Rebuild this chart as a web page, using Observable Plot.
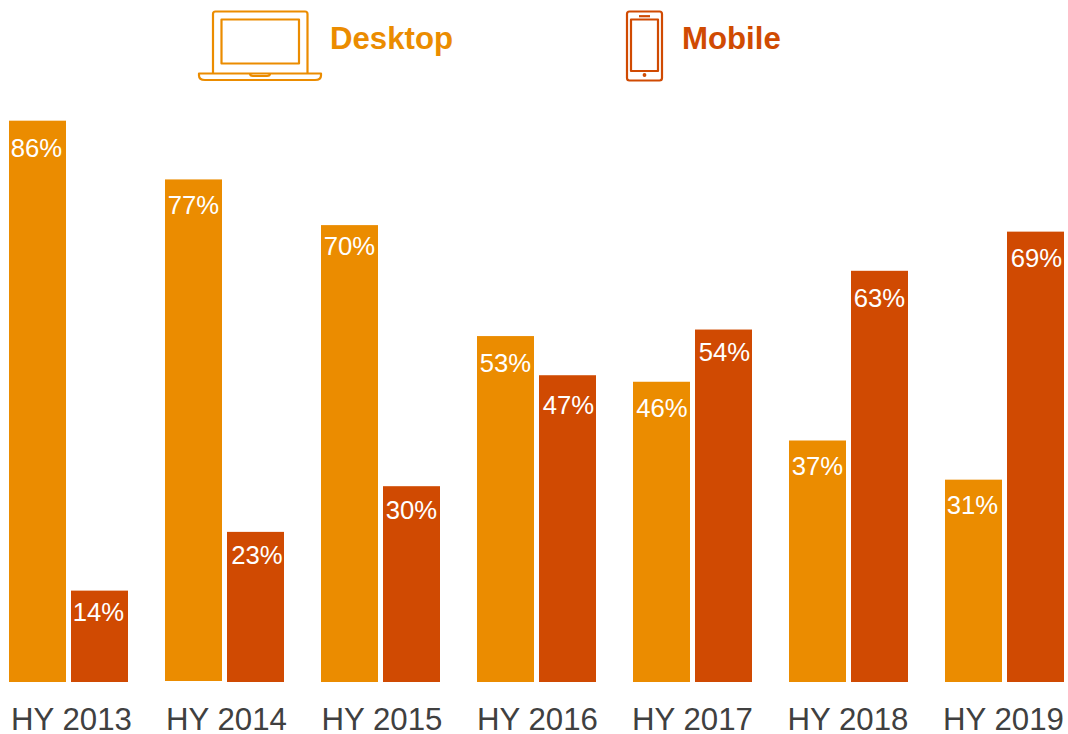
<!DOCTYPE html>
<html>
<head>
<meta charset="utf-8">
<script src="https://cdn.jsdelivr.net/npm/d3@7"></script>
<script src="https://cdn.jsdelivr.net/npm/@observablehq/plot@0.6"></script>
<style>
html,body{margin:0;padding:0;background:#fff;overflow:hidden}
#wrap{position:relative;width:1068px;height:734px;font-family:"Liberation Sans",Arial,sans-serif}
#wrap>svg.icons{position:absolute;left:0;top:0;pointer-events:none}
.lg{position:absolute;top:21px;font-weight:700;font-size:31.200px;line-height:36px}
</style>
</head>
<body>
<div id="wrap">
<svg class="icons" width="1068" height="100" fill="none" stroke-width="2.200" stroke-linejoin="round">
  <g stroke="#EB8C00">
    <path d="M213 73V14q0-2.500 2.500-2.500h89.500q2.500 0 2.500 2.500V73"/>
    <rect x="221.500" y="19.500" width="77.500" height="44"/>
    <path d="M199 73.500H321v2q0 4.500-6 4.500H205q-6 0-6-4.500z"/>
    <path d="M250 73.500q0 2.500 3 2.500h14q3 0 3-2.500"/>
  </g>
  <g stroke="#D04A02">
    <rect x="627" y="11.500" width="35" height="69" rx="2.500"/>
    <rect x="631" y="19.500" width="27" height="51.500"/>
    <path d="M639 16.200H650"/>
    <circle cx="644.500" cy="75" r="0.800" fill="#D04A02"/>
  </g>
</svg>
<div class="lg" style="left:330px;color:#EB8C00">Desktop</div>
<div class="lg" style="left:682px;color:#D04A02">Mobile</div>
</div>
<script>
const periods = ["HY 2013","HY 2014","HY 2015","HY 2016","HY 2017","HY 2018","HY 2019"];
const desktop = [86,77,70,53,46,37,31];
const mobile  = [14,23,30,47,54,63,69];
const seriesNames = ["Desktop","Mobile"];
const seriesColors = ["#EB8C00","#D04A02"];

const rows = periods.flatMap((p,i)=>[
  {period:p, series:seriesNames[0], value:desktop[i]},
  {period:p, series:seriesNames[1], value:mobile[i]}
]);

// hand-placed label nudges seen in the reference (layout only, in row order)
const nudgeY = [27.5,22, 26,23, 21,24, 27,30, 26.5,23, 26,27.500, 26,26.5];
const nudgeX = [-1.5,-1.500, -0.5,1, -0.5,-0.5, -0.5,0.5, 0,0.5, -0.5,-0.5, -1.5,0.5];
const tickNudge = [2.5,1.5,1,0.5,-0.5,-1,-1.5];

const isShort = d => d.period==="HY 2014" && d.series==="Desktop";

const chart = Plot.plot({
  width:1068, height:734,
  marginLeft:9, marginRight:4, marginTop:29.3, marginBottom:52,
  style:{fontFamily:'"Liberation Sans",Arial,sans-serif',background:"transparent"},
  fx:{domain:periods, paddingInner:37/156, paddingOuter:0, round:false, label:null},
  x:{domain:seriesNames, paddingInner:5/62, paddingOuter:0, round:false, axis:null},
  y:{domain:[0,100], axis:null},
  color:{domain:seriesNames, range:seriesColors},
  marks:[
    Plot.barY(rows.filter(d=>!isShort(d)),{fx:"period",x:"series",y:"value",fill:"series"}),
    Plot.barY(rows.filter(isShort),{fx:"period",x:"series",y:"value",fill:"series",insetBottom:1}),
    ...rows.map((r,i)=>Plot.text([r],{fx:"period",x:"series",y:"value",text:d=>d.value+"%",
      dy:nudgeY[i],dx:nudgeX[i],fill:"white",fontSize:25.7,textAnchor:"middle",lineAnchor:"middle"})),
    ...periods.map((p,i)=>Plot.axisFx({ticks:[p],dx:tickNudge[i],anchor:"bottom",tickSize:0,tickPadding:38,fontSize:31.2,label:null,fill:"#404040",lineAnchor:"middle"}))
  ]
});
document.getElementById("wrap").prepend(chart);
</script>
</body>
</html>
